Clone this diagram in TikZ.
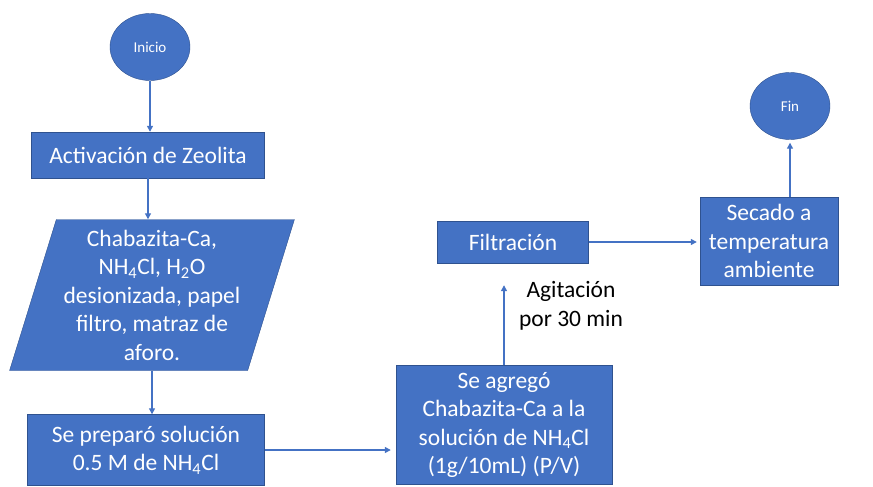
\documentclass[tikz,border=0pt]{standalone}
\usepackage{fontspec}
\setmainfont{Carlito}
\usetikzlibrary{arrows.meta, shapes.geometric}
\definecolor{officeblue}{HTML}{4472C4}
\definecolor{edgeblue}{HTML}{2F528F}

\tikzset{
  block/.style={draw=edgeblue, fill=officeblue, text=white, align=center,
    font=\fontsize{23.5}{28.5}\selectfont, inner sep=2pt},
  terminal/.style={ellipse, draw=edgeblue, fill=officeblue, text=white,
    minimum width=80pt, minimum height=67pt, inner sep=0pt,
    font=\fontsize{15}{18}\selectfont},
  datos/.style={trapezium, trapezium left angle=71.7, trapezium right angle=108.3,
    trapezium stretches=true, draw=edgeblue, fill=officeblue, text=white,
    align=center, font=\fontsize{23.5}{28.5}\selectfont,
    minimum width=285pt, minimum height=151pt, inner sep=0pt},
  flecha/.style={draw=officeblue, line width=1.3pt, -{Triangle[length=6pt,width=6pt]}}
}

\begin{document}
\begin{tikzpicture}[x=1pt, y=-1pt]
      % Bounding box with the picture margins
      \useasboundingbox (0,0) rectangle (873,487);

      % Start and end
      \node[terminal] (inicio) at (150,47) {Inicio};
      \node[terminal] (fin) at (790,106) {Fin};

      % Left column
      \node[block, minimum width=233pt, minimum height=46pt] (activ) at (148,155) {Activación de Zeolita};
      \node[datos] (mat) at (152,295) {Chabazita-Ca,\\NH\textsubscript{4}Cl, H\textsubscript{2}O\\desionizada, papel\\filtro, matraz de\\aforo.};
      \node[block, minimum width=237pt, minimum height=71pt] (prep) at (146,450) {Se preparó solución\\0.5 M de NH\textsubscript{4}Cl};

      % Middle column
      \node[block, minimum width=216pt, minimum height=119pt] (agreg) at (504,425) {Se agregó\\Chabazita-Ca a la\\solución de NH\textsubscript{4}Cl\\(1g/10mL) (P/V)};
      \node[block, minimum width=151pt, minimum height=42pt] (filt) at (513,242) {Filtración};
      \node[align=center, font=\fontsize{23.5}{28.5}\selectfont] (agit) at (571,306) {Agitación\\por 30 min};

      % Right column
      \node[block, minimum width=138pt, minimum height=88pt] (secado) at (769,241) {Secado a\\temperatura\\ambiente};

      % Connectors
      \draw[flecha] (inicio.south) -- (inicio.south |- activ.north);
      \draw[flecha] (activ.south) -- (activ.south |- mat.north);
      \draw[flecha] (mat.south) -- (mat.south |- prep.north);
      \draw[flecha, shorten >=5pt] (prep.east) -- (prep.east -| agreg.west);
      \draw[flecha, shorten >=22pt] (agreg.north) -- (agreg.north |- filt.south);
      \draw[flecha, shorten >=3pt] (filt.east) -- (filt.east -| secado.west);
      \draw[flecha, shorten >=3pt] (secado.north -| fin.south) -- (fin.south);
    \end{tikzpicture}
\end{document}
